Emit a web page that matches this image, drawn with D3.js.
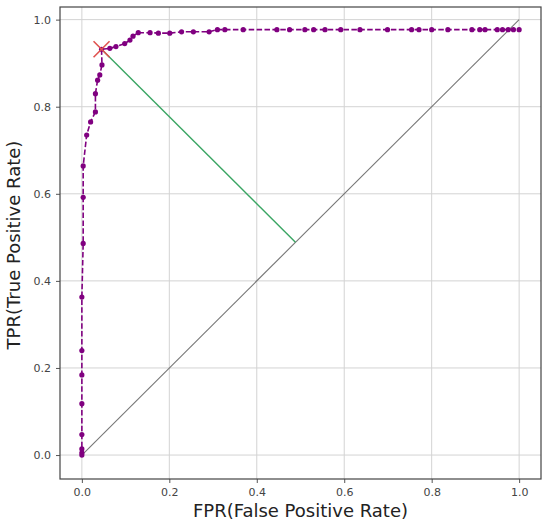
<!DOCTYPE html>
<html>
<head>
<meta charset="utf-8">
<script src="https://cdn.jsdelivr.net/npm/d3@7"></script>
<style>
  body { margin: 0; background: #fff; }
  text { font-family: "DejaVu Sans", sans-serif; }
</style>
</head>
<body>
<div id="chart"></div>
<script>
// ROC curve points
var fpr = [0, 0, 0, 0, 0, 0, 0, 0, 0.003, 0.003, 0.003, 0.011, 0.02, 0.031, 0.031, 0.036, 0.041, 0.046, 0.045,
  0.064, 0.078, 0.098, 0.11, 0.117, 0.129, 0.156, 0.175, 0.201, 0.228, 0.255, 0.291, 0.31, 0.327, 0.369,
  0.446, 0.475, 0.51, 0.53, 0.556, 0.592, 0.636, 0.699, 0.754, 0.771, 0.80, 0.837, 0.892, 0.91, 0.922,
  0.95, 0.962, 0.975, 0.987, 1.0];
var tpr = [0, 0.005, 0.014, 0.047, 0.118, 0.184, 0.24, 0.363, 0.486, 0.592, 0.664, 0.735, 0.765, 0.788, 0.83, 0.861, 0.873, 0.896, 0.932,
  0.934, 0.938, 0.945, 0.953, 0.962, 0.970, 0.970, 0.969, 0.969, 0.972, 0.972, 0.972, 0.977, 0.977, 0.977,
  0.977, 0.977, 0.977, 0.977, 0.977, 0.977, 0.977, 0.977, 0.977, 0.977, 0.977, 0.977, 0.977, 0.977, 0.977,
  0.977, 0.977, 0.977, 0.977, 0.977];
var best = [0.045, 0.932];       // chosen threshold (red x)
var foot = [0.4885, 0.4885];     // foot of perpendicular on the diagonal
var ticks = [0, 0.2, 0.4, 0.6, 0.8, 1.0];

var width = 550, height = 529;
var margin = {top: 7, right: 9, bottom: 50, left: 60};

var svg = d3.select("#chart")
  .append("svg")
  .attr("width", width)
  .attr("height", height);

var x = d3.scaleLinear()
  .domain([-0.05, 1.05])
  .range([margin.left, width - margin.right]);

var y = d3.scaleLinear()
  .domain([-0.055, 1.029])
  .range([height - margin.bottom, margin.top]);

// grid
svg.append("g").selectAll("line.gx")
  .data(ticks).enter().append("line")
  .attr("x1", d => x(d)).attr("x2", d => x(d))
  .attr("y1", margin.top).attr("y2", height - margin.bottom)
  .attr("stroke", "#d3d3d3").attr("stroke-width", 1);
svg.append("g").selectAll("line.gy")
  .data(ticks).enter().append("line")
  .attr("y1", d => y(d)).attr("y2", d => y(d))
  .attr("x1", margin.left).attr("x2", width - margin.right)
  .attr("stroke", "#d3d3d3").attr("stroke-width", 1);

// axes
var xAxis = d3.axisBottom(x).tickValues(ticks).tickFormat(d3.format(".1f")).tickSize(4).tickPadding(5);
var yAxis = d3.axisLeft(y).tickValues(ticks).tickFormat(d3.format(".1f")).tickSize(4).tickPadding(5);

svg.append("g")
  .attr("transform", "translate(0," + (height - margin.bottom) + ")")
  .call(xAxis)
  .call(g => g.select(".domain").remove())
  .call(g => g.selectAll("line").attr("stroke", "#555"))
  .call(g => g.selectAll("text").attr("fill", "#444").style("font-size", "11px"));

svg.append("g")
  .attr("transform", "translate(" + margin.left + ",0)")
  .call(yAxis)
  .call(g => g.select(".domain").remove())
  .call(g => g.selectAll("line").attr("stroke", "#555"))
  .call(g => g.selectAll("text").attr("fill", "#444").style("font-size", "11px"));

// diagonal
svg.append("line")
  .attr("x1", x(0)).attr("y1", y(0))
  .attr("x2", x(1)).attr("y2", y(1))
  .attr("stroke", "#777").attr("stroke-width", 1.1);

// perpendicular to diagonal
svg.append("line")
  .attr("x1", x(best[0])).attr("y1", y(best[1]))
  .attr("x2", x(foot[0])).attr("y2", y(foot[1]))
  .attr("stroke", "#3aa563").attr("stroke-width", 1.4);

// ROC curve
var pts = fpr.map((d, i) => [d, tpr[i]]);
var line = d3.line()
  .x(d => x(d[0]))
  .y(d => y(d[1]));

svg.append("path")
  .datum(pts)
  .attr("fill", "none")
  .attr("stroke", "#800080")
  .attr("stroke-width", 1.6)
  .attr("stroke-dasharray", "5.5,2.4")
  .attr("d", line);

svg.append("g").selectAll("circle")
  .data(pts).enter().append("circle")
  .attr("cx", d => x(d[0]))
  .attr("cy", d => y(d[1]))
  .attr("r", 2.6)
  .attr("fill", "#800080");

// best point marker
var s = 8;
var bx = x(best[0]), by = y(best[1]);
svg.append("path")
  .attr("d", "M" + (bx - s) + "," + (by - s) + "L" + (bx + s) + "," + (by + s) +
             "M" + (bx - s) + "," + (by + s) + "L" + (bx + s) + "," + (by - s))
  .attr("stroke", "#e0524f").attr("stroke-width", 1.6).attr("fill", "none");

// frame
svg.append("rect")
  .attr("x", margin.left).attr("y", margin.top)
  .attr("width", width - margin.left - margin.right)
  .attr("height", height - margin.top - margin.bottom)
  .attr("fill", "none").attr("stroke", "#444").attr("stroke-width", 1.2);

// labels
svg.append("text")
  .attr("x", (x(-0.05) + x(1.05)) / 2)
  .attr("y", 517)
  .attr("text-anchor", "middle")
  .attr("fill", "#222")
  .style("font-size", "18px")
  .text("FPR(False Positive Rate)");

svg.append("text")
  .attr("transform", "translate(20," + 245 + ") rotate(-90)")
  .attr("text-anchor", "middle")
  .attr("fill", "#222")
  .style("font-size", "18px")
  .text("TPR(True Positive Rate)");
</script>
</body>
</html>
